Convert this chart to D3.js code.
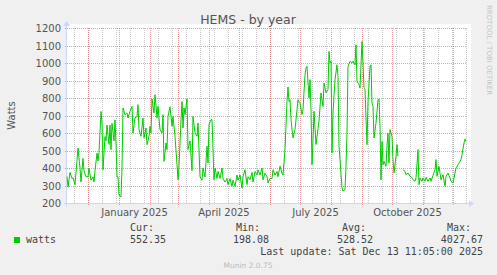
<!DOCTYPE html>
<html>
<head>
<meta charset="utf-8">
<script src="https://cdn.jsdelivr.net/npm/d3@7"></script>
<style>
html, body { margin: 0; padding: 0; background: #f0f0f0; }
svg { display: block; }
</style>
</head>
<body>
<div id="chart"></div>
<script>
// munin year graph: one point per day, offsets counted from the first day
var startDay = "2024-11-10";
var endDay = "2025-12-15";

var dayOffsets = [
    0, 1, 3, 5, 6, 8, 11, 13, 14, 16,
    17, 19, 21, 22, 24, 26, 27, 28, 30, 31,
    32, 34, 35, 36, 38, 39, 40, 42, 43, 44,
    45, 47, 48, 49, 50, 51, 52, 54, 55, 56,
    58, 60, 61, 63, 65, 66, 68, 70, 71, 72,
    74, 76, 77, 79, 80, 82, 83, 84, 85, 87,
    88, 89, 90, 91, 93, 95, 96, 97, 99, 100,
    101, 103, 105, 106, 108, 110, 111, 112, 114, 115,
    116, 117, 118, 120, 121, 123, 125, 126, 128, 130,
    131, 133, 135, 136, 138, 140, 141, 142, 144, 145,
    147, 148, 150, 151, 153, 155, 156, 158, 160, 161,
    163, 165, 166, 168, 170, 171, 173, 175, 176, 178,
    180, 181, 183, 185, 186, 188, 190, 191, 193, 195,
    196, 198, 200, 201, 203, 205, 206, 208, 210, 211,
    213, 215, 216, 218, 220, 221, 222, 223, 224, 225,
    226, 228, 230, 231, 233, 235, 236, 238, 239, 240,
    242, 243, 244, 245, 246, 247, 249, 250, 252, 254,
    256, 257, 259, 261, 262, 263, 264, 265, 266, 268,
    270, 271, 272, 273, 275, 276, 278, 279, 280, 281,
    283, 285, 286, 288, 289, 290, 292, 293, 295, 296,
    297, 298, 300, 301, 303, 304, 305, 306, 307, 309,
    311, 312, 313, 314, 315, 316, 317, 319, 320, 321,
    322, 323, 325, 326, 327, 329, 330, 331, 333, 336,
    338, 339, 341, 343, 344, 346, 348, 349, 351, 352,
    353, 355, 356, 358, 359, 361, 363, 364, 366, 368,
    369, 370, 372, 373, 374, 376, 378, 379, 381, 383,
    384, 386, 388, 389, 391, 393, 394, 395, 397, 398,
    399
];

// null = no data recorded that day
var watts = [
    352, 291, 375, 340, 345, 305, 514, 400, 320, 455,
    385, 350, 350, 400, 330, 350, 320, 385, 485, 440,
    490, 723, 657, 390, 580, 555, 645, 535, 645, 505,
    655, 555, 675, 545, 350, 350, 245, 235, 400, 743,
    705, 715, 686, 724, 752, 600, 686, 695, 762, 619,
    581, 686, 572, 629, 533, 581, 638, 600, 795, 714,
    819, 760, 686, 752, 619, 600, 705, 438, 543, 505,
    695, 750, 638, 695, 581, 419, 333, 410, 676, 780,
    629, 743, 705, 795, 505, 555, 385, 695, 600, 581,
    657, 350, 330, 400, 350, 524, 429, 648, 676, 676,
    333, 400, 340, 380, 340, 400, 340, 320, 340, 305,
    340, 295, 330, 295, 360, 330, 360, 285, 350, 390,
    305, 350, 333, 375, 320, 380, 360, 390, 360, 400,
    333, 370, 350, 315, 340, 340, 390, 360, 380, 350,
    410, 370, 360, 505, 781, 863, 780, 790, 676, 620,
    572, 619, 733, 790, 771, 705, 733, 933, 971, 981,
    800, 905, 733, 419, 553, 724, 534, 581, 667, 829,
    752, 886, 829, 848, 1066, 1000, 1010, 486, 714, 905,
    990, 924, 524, 447, 287, 268, 277, 410, 600, 981,
    1010, 1000, 1010, 990, 1104, 895, 876, 857, 1124, 1000,
    860, 848, 533, 780, 981, 990, 771, 752, 571, 657,
    790, 795, 638, 333, 552, 419, 438, 410, 533, 600,
    429, 619, 581, 448, 371, 467, 533, 467, null, 390,
    381, 362, 371, 352, 352, 333, 324, 343, 505, 305,
    343, 324, 343, 324, 347, 324, 343, 324, 358, 390,
    448, 352, 409, 371, 333, 362, 295, 352, 371, 343,
    324, 314, 371, 400, 419, 438, 448, 476, 543, 566,
    552
];

var yTicks = [200, 300, 400, 500, 600, 700, 800, 900, 1000, 1100, 1200];
var monthLabels = ["January 2025", "April 2025", "July 2025", "October 2025"];
var legendHeads = ["Cur:", "Min:", "Avg:", "Max:"];
var legendValues = ["552.35", "198.08", "528.52", "4027.67"];
var seriesName = "watts";
var lastUpdate = "Last update: Sat Dec 13 11:05:00 2025";

var W = 497, H = 275;
var plot = { left: 67, top: 28, right: 467, bottom: 203 };
var fontColor = "#555";
var axisColor = "#cfd6f8";
var lineColor = "#00cc00";

var t0 = d3.timeParse("%Y-%m-%d")(startDay);
var t1 = d3.timeParse("%Y-%m-%d")(endDay);

var data = [];
var n = Math.min(dayOffsets.length, watts.length);
for (var i = 0; i < n; i++) {
    data.push({ date: d3.timeDay.offset(t0, dayOffsets[i]), value: watts[i] });
}

var svg = d3.select("#chart")
    .append("svg")
    .attr("width", W)
    .attr("height", H)
    .style("font-family", "'DejaVu Sans', sans-serif");

svg.append("rect").attr("width", W).attr("height", H).attr("fill", "#f0f0f0");

var x = d3.scaleTime()
    .domain([t0, t1])
    .range([plot.left, plot.right]);

var y = d3.scaleLinear()
    .domain([200, 1200])
    .range([plot.bottom, plot.top]);

// canvas
svg.append("rect")
    .attr("x", plot.left)
    .attr("y", plot.top - 4)
    .attr("width", plot.right - plot.left + 4)
    .attr("height", plot.bottom - plot.top + 4)
    .attr("fill", "#fff");

// minor grid, every other sunday
var weeks = d3.timeSunday.range(d3.timeDay.offset(t0, 7), t1, 2);
svg.append("g")
    .selectAll("line")
    .data(weeks)
    .enter().append("line")
    .attr("x1", function(d) { return Math.round(x(d)) + 0.5; })
    .attr("x2", function(d) { return Math.round(x(d)) + 0.5; })
    .attr("y1", plot.top)
    .attr("y2", plot.bottom)
    .attr("stroke", "rgba(140,140,140,0.45)")
    .attr("stroke-dasharray", "1,1");

// major grid (months)
var months = d3.timeMonth.range(d3.timeMonth.ceil(t0), t1);
svg.append("g")
    .selectAll("line")
    .data(months)
    .enter().append("line")
    .attr("x1", function(d) { return Math.round(x(d)) + 0.5; })
    .attr("x2", function(d) { return Math.round(x(d)) + 0.5; })
    .attr("y1", plot.top)
    .attr("y2", plot.bottom + 2)
    .attr("stroke", "rgba(230,60,60,0.5)")
    .attr("stroke-dasharray", "1,1");

svg.append("g")
    .selectAll("line")
    .data(yTicks)
    .enter().append("line")
    .attr("x1", plot.left - 2)
    .attr("x2", plot.right)
    .attr("y1", function(d) { return Math.round(y(d)) + 0.5; })
    .attr("y2", function(d) { return Math.round(y(d)) + 0.5; })
    .attr("stroke", "rgba(230,60,60,0.5)")
    .attr("stroke-dasharray", "1,1");

// y axis labels
svg.append("g")
    .selectAll("text")
    .data(yTicks)
    .enter().append("text")
    .attr("x", plot.left - 6)
    .attr("y", function(d) { return Math.round(y(d)) + 4; })
    .attr("text-anchor", "end")
    .attr("font-size", 10)
    .attr("fill", fontColor)
    .text(function(d) { return d; });

// x axis labels sit in the middle of their month
var labelMonths = months.filter(function(d) { return d.getMonth() % 3 === 0; });
svg.append("g")
    .selectAll("text")
    .data(labelMonths)
    .enter().append("text")
    .attr("x", function(d) {
        return (x(d) + x(d3.timeMonth.offset(d, 1))) / 2;
    })
    .attr("y", 216)
    .attr("text-anchor", "middle")
    .attr("font-size", 10)
    .attr("fill", fontColor)
    .text(function(d, i) { return monthLabels[i]; });

// axes with arrows
svg.append("line")
    .attr("x1", plot.left - 3).attr("x2", plot.right + 3)
    .attr("y1", plot.bottom + 0.5).attr("y2", plot.bottom + 0.5)
    .attr("stroke", axisColor);
svg.append("line")
    .attr("x1", plot.left - 0.5).attr("x2", plot.left - 0.5)
    .attr("y1", plot.bottom + 3).attr("y2", plot.top - 3)
    .attr("stroke", axisColor);
svg.append("path")
    .attr("d", "M" + (plot.right + 2) + "," + (plot.bottom - 3) + "L" + (plot.right + 7) + "," + (plot.bottom + 0.5) + "L" + (plot.right + 2) + "," + (plot.bottom + 4) + "Z")
    .attr("fill", axisColor);
svg.append("path")
    .attr("d", "M" + (plot.left - 4) + "," + (plot.top - 2) + "L" + (plot.left - 0.5) + "," + (plot.top - 7) + "L" + (plot.left + 3) + "," + (plot.top - 2) + "Z")
    .attr("fill", axisColor);

// the series
svg.append("path")
    .datum(data)
    .attr("fill", "none")
    .attr("stroke", lineColor)
    .attr("stroke-width", 1)
    .attr("d", d3.line()
        .defined(function(d) { return d.value !== null; })
        .x(function(d) { return x(d.date); })
        .y(function(d) { return y(d.value); })
    );

// title and side labels
svg.append("text")
    .attr("x", 248).attr("y", 24)
    .attr("text-anchor", "middle")
    .attr("font-size", 12.5)
    .attr("fill", fontColor)
    .text("HEMS - by year");

svg.append("text")
    .attr("transform", "translate(15," + ((plot.top + plot.bottom) / 2) + ") rotate(-90)")
    .attr("text-anchor", "middle")
    .attr("font-size", 10)
    .attr("fill", fontColor)
    .text("Watts");

svg.append("text")
    .attr("transform", "translate(487,5) rotate(90)")
    .attr("font-size", 7)
    .attr("fill", "#c4c4c4")
    .text("RRDTOOL / TOBI OETIKER");

// legend
var mono = "'DejaVu Sans Mono', monospace";
svg.append("rect")
    .attr("x", 14).attr("y", 237)
    .attr("width", 6).attr("height", 6)
    .attr("fill", lineColor);
svg.append("text")
    .attr("x", 26).attr("y", 243)
    .attr("font-family", mono).attr("font-size", 10)
    .attr("fill", "#444")
    .text(seriesName);

var headEnds = [154, 260, 366, 471];
var valueEnds = [166, 269, 373, 483];
svg.append("g")
    .selectAll("text")
    .data(legendHeads)
    .enter().append("text")
    .attr("x", function(d, i) { return headEnds[i]; })
    .attr("y", 231)
    .attr("text-anchor", "end")
    .attr("font-family", mono).attr("font-size", 10)
    .attr("fill", "#444")
    .text(function(d) { return d; });
svg.append("g")
    .selectAll("text")
    .data(legendValues)
    .enter().append("text")
    .attr("x", function(d, i) { return valueEnds[i]; })
    .attr("y", 243)
    .attr("text-anchor", "end")
    .attr("font-family", mono).attr("font-size", 10)
    .attr("fill", "#444")
    .text(function(d) { return d; });

svg.append("text")
    .attr("x", 483).attr("y", 255)
    .attr("text-anchor", "end")
    .attr("font-family", mono).attr("font-size", 10)
    .attr("fill", "#444")
    .text(lastUpdate);

svg.append("text")
    .attr("x", 248).attr("y", 268)
    .attr("text-anchor", "middle")
    .attr("font-size", 7.5)
    .attr("fill", "#bbb")
    .text("Munin 2.0.75");
</script>
</body>
</html>
